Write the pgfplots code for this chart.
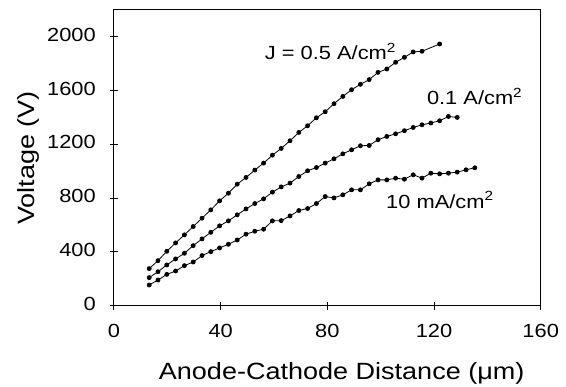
\documentclass[border=0pt]{standalone}
\usepackage{fontspec}
\setmainfont[FakeStretch=1.15]{Liberation Sans}
\usepackage{pgfplots}
\usepackage{pgfplotstable}
\pgfplotsset{compat=1.18}

\pgfplotstableread{
x y
13.2 276
16.5 335
19.8 405
23.1 467
26.4 527
29.7 589
33.0 651
36.3 713
39.6 780
42.9 837
46.2 904
49.5 954
52.8 1009
56.1 1061
59.4 1120
62.7 1170
66.0 1227
69.3 1289
72.6 1339
75.9 1398
79.2 1443
82.5 1503
85.8 1557
89.1 1607
92.4 1647
95.7 1682
99.0 1736
102.3 1761
105.6 1811
108.9 1848
112.2 1888
115.5 1893
122.1 1947
}\tabA

\pgfplotstableread{
x y
13.2 209
16.5 253
19.8 303
23.1 348
26.4 390
29.7 447
33.0 497
36.3 546
39.6 594
42.9 631
46.2 676
49.5 720
52.8 760
56.1 795
59.4 845
62.7 884
66.0 912
69.3 961
72.6 1004
75.9 1028
79.2 1061
82.5 1093
85.8 1130
89.1 1160
92.4 1190
95.7 1192
99.0 1235
102.3 1259
105.6 1279
108.9 1302
112.2 1326
115.5 1346
118.8 1359
122.1 1376
125.4 1408
128.7 1401
}\tabB

\pgfplotstableread{
x y
13.2 154
16.5 191
19.8 233
23.1 258
26.4 298
29.7 325
33.0 373
36.3 402
39.6 430
42.9 457
46.2 489
49.5 532
52.8 554
56.1 569
59.4 631
62.7 633
66.0 668
69.3 708
72.6 723
75.9 760
79.2 812
82.5 802
85.8 825
89.1 862
92.4 862
95.7 907
99.0 936
102.3 936
105.6 949
108.9 941
112.2 974
115.5 949
118.8 986
122.1 981
125.4 986
128.7 994
132.0 1011
135.3 1026
}\tabC

\pgfplotsset{curve/.style={black, line width=0.8bp, mark=*, mark size=2bp, mark options={solid, fill=black}}}

\begin{document}
\begin{tikzpicture}[font=\fontsize{19bp}{22bp}\selectfont]
\begin{axis}[
  scale only axis, width=426.7bp, height=295.7bp,
  xmin=0, xmax=160, ymin=0, ymax=2200,
  xtick={0,40,...,160}, ytick={0,400,...,2000},
  tick pos=left, tick align=center, major tick length=8bp,
  axis line style={line width=1bp},
  every tick/.style={black, line width=1bp},
  /pgf/number format/assume math mode=true,
  /pgf/number format/1000 sep={},
  xticklabel style={anchor=base, inner sep=0pt, yshift=-27.8bp},
  yticklabel style={anchor=east, inner sep=0pt, xshift=-14bp, yshift=2bp},
  xlabel={Anode-Cathode Distance (μm)},
  ylabel={Voltage (V)},
  xlabel style={font=\fontsize{23.5bp}{26bp}\selectfont, at={(rel axis cs:0.5336,0)}, anchor=base, inner sep=0pt, yshift=-73.6bp},
  ylabel style={font=\fontsize{23.5bp}{26bp}\selectfont, at={(rel axis cs:0,0.5)}, anchor=base, inner sep=0pt, yshift=79bp},
]
\coordinate (bl) at (rel axis cs:0,0);
\addplot[curve] table {\tabA};
\addplot[curve] table {\tabB};
\addplot[curve] table {\tabC};
\node[anchor=west, inner sep=0pt] at (axis cs:56.5,1893) {J = 0.5 A/cm\textsuperscript{2}};
\node[anchor=west, inner sep=0pt] at (axis cs:117.3,1557) {0.1 A/cm\textsuperscript{2}};
\node[anchor=west, inner sep=0pt] at (axis cs:102,788) {10 mA/cm\textsuperscript{2}};
\end{axis}
\pgfresetboundingbox
\path (bl) ++(-114bp,-81.3bp) rectangle ++(566bp,387bp);
\end{tikzpicture}
\end{document}
